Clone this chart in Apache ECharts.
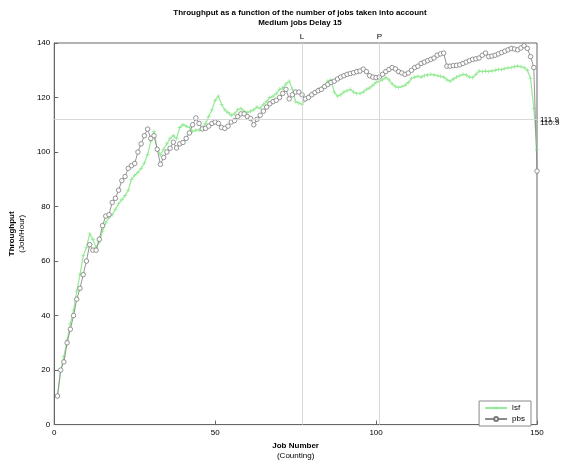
<!DOCTYPE html>
<html>
<head>
<meta charset="utf-8">
<script src="https://cdn.jsdelivr.net/npm/echarts@6/dist/echarts.min.js"></script>
<style>html,body{margin:0;padding:0;background:#fff}#c{width:564px;height:465px}</style>
</head>
<body>
<div id="c"></div>
<script>
// Job numbers start at 1
const firstJob = 1;
const lsf = [10,20,25,31,37,42,49,55,62,65,70,68,65,67,71,74,76,77,79,81,
 82.5,84,86,90,91.5,92.5,94,96,99,104,107.5,101,99,101,103,105,106,105,109,110,
 109.5,109,107.5,108,108,109,110.5,113,115.5,119,120.5,117.5,115.5,114.5,113.5,114,115.5,116,115,114.5,
 115,115.5,116.5,116,117.5,118.5,120,120.5,121.5,123,123.5,125,126,123,118.5,118,117.5,119,120.5,121.5,
 122,123,123.5,124.5,126,126.5,122,120.5,121,122,122.5,123,122,121.5,121.5,122,123,123.5,124.5,125.5,
 126,126.5,127.3,126.5,125,124,123.7,124,124.5,125.5,127,127.5,127.8,127.5,128,128.3,128.5,128.3,128,127.8,
 127.5,126.5,126,126.8,127.5,128,128.5,128.3,127.5,127.3,128.5,129.7,129.5,129.7,129.5,129.8,130,130.3,130.3,130.6,
 130.9,131,131.3,131.5,131.3,131,130,127,116,101];
const pbs = [10.5,20,23,30,35,40,46,50,55,60,66,64,64,68,73,76.5,77,81.5,83,86,
 89.5,91,94,95,95.8,100,103,106,108.4,105,106,101,95.5,98,100,101.4,103.6,101.5,103,103.5,
 105,107,110,112.5,110.5,108.5,108.7,109.5,110.5,111,110.5,109,108.7,109.5,111,111.5,113,114,114,113,
 112.3,110,112,113.5,115,116.5,117.7,118.5,119,120,121.5,123,119.5,121,122,122,121,119.5,120,121,
 121.8,122.5,123,124,124.8,125.5,126,126.8,127.5,128,128.5,128.8,129.1,129.5,129.7,130.4,129.5,128,127.5,127.3,
 127.5,128.5,129.5,130.3,131,130.5,129.5,129,128.5,129,130,131,131.5,132.5,133,133.5,134,134.5,135.5,136,
 136.3,131.5,131.5,131.7,131.8,132,132.5,133,133.5,134,134.2,134.5,135.5,136.3,135,135.2,135.5,136,136.5,137,
 137.5,138,137.8,137.5,138.2,139,138,135,131,93];
const xTicks = [0, 50, 100, 150];
const yTicks = [0, 20, 40, 60, 80, 100, 120, 140];
const markJobs = [{name:'L', job:77}, {name:'P', job:101}];
const avgLines = [{label:'111.9', value:111.9, shown:true}, {label:'110.9', value:110.9, shown:false}];

const toPairs = arr => arr.map((v, i) => [firstJob + i, v]);
const font = 'Liberation Sans';

const chart = echarts.init(document.getElementById('c'), null, {renderer:'canvas'});
chart.setOption({
  animation: false,
  backgroundColor: '#fff',
  textStyle: {fontFamily: font},
  title: {
    text: 'Throughput as a function of the number of jobs taken into account\nMedium jobs Delay 15',
    left: 295, top: 3, textAlign: 'center',
    textStyle: {fontSize: 8, fontWeight: 'bold', color: '#000', lineHeight: 10, fontFamily: font}
  },
  legend: {
    orient: 'vertical', right: 33, bottom: 39,
    itemWidth: 22, itemHeight: 5, itemGap: 3,
    padding: [3, 6, 3, 5],
    borderColor: '#888', borderWidth: 1, backgroundColor: '#fff',
    textStyle: {fontSize: 8, color: '#000', fontFamily: font},
    data: ['lsf', 'pbs']
  },
  grid: {left: 54, right: 27, top: 43, bottom: 34, show: true, borderColor: '#666', borderWidth: 1},
  xAxis: {
    type: 'value', min: 0, max: 150, interval: 50,
    name: '{b|Job Number}\n{n|(Counting)}', nameLocation: 'middle', nameGap: 13,
    nameTextStyle: {rich: {b: {fontSize: 8, fontWeight: 'bold', color:'#000', lineHeight: 11, fontFamily: font},
                           n: {fontSize: 8, color:'#000', lineHeight: 10, fontFamily: font}}},
    axisLine: {show: true, lineStyle: {color: '#666'}},
    axisTick: {inside: true, length: 4, lineStyle: {color: '#666'}},
    axisLabel: {fontSize: 8, color: '#000', margin: 4, fontFamily: font},
    splitLine: {show: false}
  },
  yAxis: {
    type: 'value', min: 0, max: 140, interval: 20,
    name: '{b|Throughput}\n{n|(Job/Hour)}', nameLocation: 'middle', nameGap: 27, nameRotate: 90,
    nameTextStyle: {rich: {b: {fontSize: 8, fontWeight: 'bold', color:'#000', lineHeight: 10, fontFamily: font},
                           n: {fontSize: 8, color:'#000', lineHeight: 10, fontFamily: font}}},
    axisLine: {show: true, lineStyle: {color: '#666'}},
    axisTick: {inside: true, length: 4, lineStyle: {color: '#666'}},
    axisLabel: {fontSize: 8, color: '#000', margin: 4, fontFamily: font},
    splitLine: {show: false}
  },
  series: [
    {
      name: 'lsf', type: 'line', data: toPairs(lsf),
      symbol: 'path://M4,0h2v4h4v2h-4v4h-2v-4h-4v-2h4z', symbolSize: 4, showSymbol: true,
      lineStyle: {color: '#96ea96', width: 1.2},
      itemStyle: {color: '#96ea96', borderWidth: 0},
      z: 3,
      markLine: {
        silent: true, symbol: 'none', animation: false,
        lineStyle: {color: '#d8d8d8', width: 1, type: 'solid'},
        label: {show: true, position: 'end', formatter: '{b}', fontSize: 8, color: '#000', distance: 2, fontFamily: font},
        data: markJobs.map(m => ({name: m.name, xAxis: m.job}))
      }
    },
    {
      name: 'pbs', type: 'line', data: toPairs(pbs),
      symbol: 'circle', symbolSize: 4.5, showSymbol: true,
      lineStyle: {color: '#8a8a8a', width: 0.9},
      itemStyle: {color: '#ffffff', borderColor: '#7a7a7a', borderWidth: 0.8},
      z: 4,
      markLine: {
        silent: true, symbol: 'none', animation: false,
        lineStyle: {color: '#d8d8d8', width: 1, type: 'solid'},
        label: {show: true, position: 'end', formatter: '{b}', fontSize: 8, color: '#000', distance: 3, fontFamily: font},
        data: avgLines.map(a => ({name: a.label, yAxis: a.value,
          lineStyle: {color: a.shown ? '#d8d8d8' : 'rgba(255,255,255,0)'},
          label: {color: '#000', opacity: 1}}))
      }
    }
  ]
});
</script>
</body>
</html>
